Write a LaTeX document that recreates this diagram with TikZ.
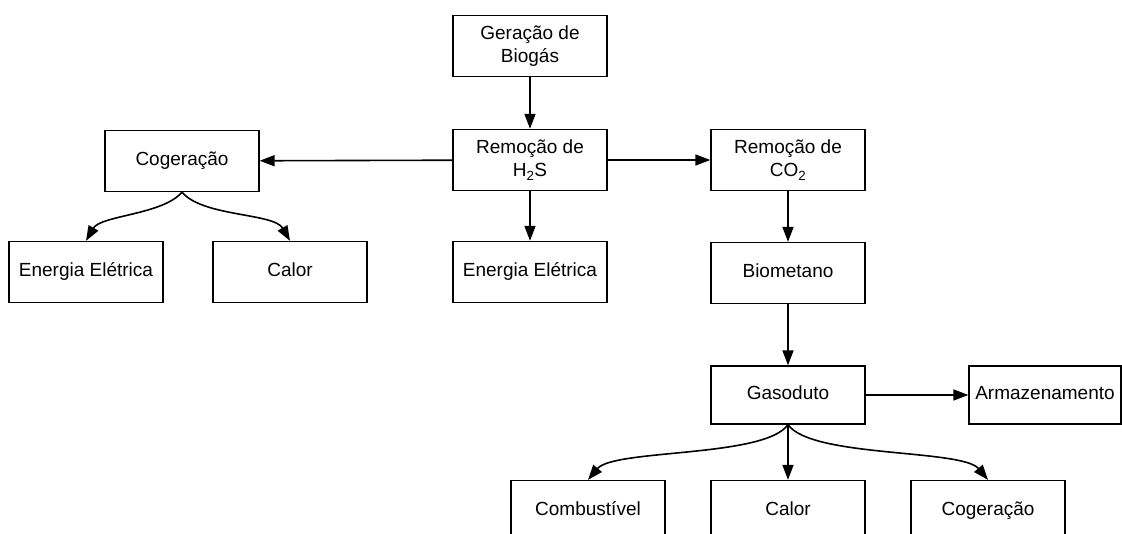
\documentclass[tikz,border=0pt]{standalone}
\usepackage{fontspec}
\setmainfont{Liberation Sans}
\usetikzlibrary{arrows.meta}

\tikzset{
  caixa/.style={draw, line width=1.3pt, minimum width=154pt, minimum height=61pt,
    align=center, inner sep=2pt, font=\fontsize{19}{23}\selectfont},
  linha/.style={caixa, text height=14pt, text depth=4.5pt},
  seta/.style={line width=1.6pt, -{Triangle[length=15pt,width=11pt]}}
}

\begin{document}
\begin{tikzpicture}[x=1pt,y=1pt]
    \path[use as bounding box, clip] (0,0) rectangle (1122,534);

    % linha central
    \node[caixa] (gerbio) at (530,488) {Geração de\\Biogás};
    \node[caixa] (remhs) at (530,374) {Remoção de\\H\textsubscript{2}S};
    \node[linha] (eneM) at (530,262) {Energia Elétrica};

    % ramo da cogeração
    \node[linha] (cogL) at (182,373) {Cogeração};
    \node[linha] (eneL) at (86,262) {Energia Elétrica};
    \node[linha] (calL) at (290,262) {Calor};

    % ramo do biometano
    \node[caixa] (remco) at (788,374) {Remoção de\\CO\textsubscript{2}};
    \node[linha] (biomet) at (788,261) {Biometano};
    \node[linha, minimum height=58pt] (gasod) at (788,139) {Gasoduto};
    \node[linha, minimum width=152pt, minimum height=58pt] (armaz) at (1045,139) {Armazenamento};
    \node[linha] (comb) at (588,23) {Combustível};
    \node[linha] (calB) at (788,23) {Calor};
    \node[linha] (cogB) at (988,23) {Cogeração};

    \draw[seta] (gerbio) -- (remhs);
    \draw[seta] (remhs) -- (cogL);
    \draw[seta] (remhs) -- (remco);
    \draw[seta] (remhs) -- (eneM);
    \draw[seta] (cogL.south) to[out=-130,in=60,looseness=0.7] (eneL.north);
    \draw[seta] (cogL.south) to[out=-50,in=120,looseness=0.7] (calL.north);
    \draw[seta] (remco) -- (biomet);
    \draw[seta] (biomet) -- (gasod);
    \draw[seta] (gasod) -- (armaz);
    \draw[seta] (gasod.south) to[out=-125,in=50,looseness=0.5] (comb.north);
    \draw[seta] (gasod) -- (calB);
    \draw[seta] (gasod.south) to[out=-55,in=130,looseness=0.5] (cogB.north);
\end{tikzpicture}
\end{document}
